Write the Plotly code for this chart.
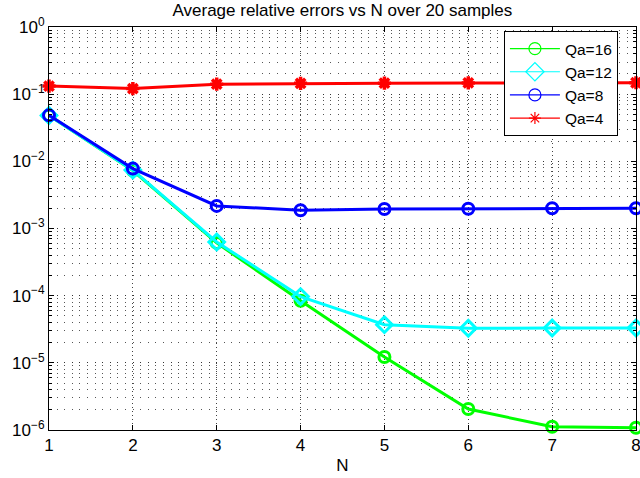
import plotly.graph_objects as go

# Sample sizes N and average relative errors for each Qa setting
n_values = [1, 2, 3, 4, 5, 6, 7, 8]
err_qa16 = [0.0480, 0.0073, 0.00061, 8.4e-5, 1.22e-5, 2.05e-6, 1.12e-6, 1.08e-6]
err_qa12 = [0.0482, 0.0074, 0.00063, 9.7e-5, 3.7e-5, 3.27e-5, 3.3e-5, 3.3e-5]
err_qa8 = [0.0484, 0.0078, 0.00217, 0.00187, 0.00195, 0.00197, 0.00200, 0.00200]
err_qa4 = [0.132, 0.121, 0.141, 0.145, 0.146, 0.147, 0.147, 0.148]

series = [
    ("Qa=16", err_qa16, "#00ff00", "circle-open", 11, 12),
    ("Qa=12", err_qa12, "#00ffff", "diamond-open", 12, 14),
    ("Qa=8", err_qa8, "#0000ff", "circle-open", 11, 12),
    ("Qa=4", err_qa4, "#ff0000", "asterisk-open", 11, 10),
]

fig = go.Figure()
# Thick data lines
for name, vals, color, symbol, size, _ in series:
    fig.add_trace(go.Scatter(
        x=n_values, y=vals, name=name, mode="lines+markers",
        line=dict(color=color, width=3),
        marker=dict(symbol=symbol, size=size, color=color,
                    line=dict(color=color, width=3.5 if "asterisk" in symbol else 3)),
        cliponaxis=False, showlegend=False,
    ))
# Thin-styled legend entries
for name, vals, color, symbol, _, leg_size in series:
    fig.add_trace(go.Scatter(
        x=[None], y=[None], name=name, mode="lines+markers",
        line=dict(color=color, width=1.2),
        marker=dict(symbol=symbol, size=leg_size, color=color,
                    line=dict(color=color, width=1.2)),
        showlegend=True,
    ))

decades = [1e0, 1e-1, 1e-2, 1e-3, 1e-4, 1e-5, 1e-6]
decade_labels = ["10<sup>0</sup>", "10<sup>−1</sup>", "10<sup>−2</sup>",
                 "10<sup>−3</sup>", "10<sup>−4</sup>", "10<sup>−5</sup>",
                 "10<sup>−6</sup>"]

font = dict(family="Liberation Sans, Arial, sans-serif", size=17, color="black")
hgrid_dash = "1px,6.6px"
vgrid_dash = "1px,3px"

fig.update_layout(
    template="none",
    width=640, height=478,
    margin=dict(l=49, r=4, t=27, b=48),
    paper_bgcolor="white", plot_bgcolor="white",
    font=font,
    title=dict(text="Average relative errors vs N over 20 samples",
               x=0.535, xanchor="center", y=0.979, yanchor="middle",
               font=dict(size=17)),
    legend=dict(x=0.775, y=0.99, xanchor="left", yanchor="top",
                bgcolor="white", bordercolor="black", borderwidth=1,
                itemwidth=50, tracegroupgap=0,
                font=dict(size=15.5)),
    showlegend=True,
)

fig.update_xaxes(
    title=dict(text="N", standoff=4, font=dict(size=17)),
    range=[1, 8], tickvals=n_values, ticktext=[str(v) for v in n_values],
    ticks="inside", ticklen=5, tickcolor="black",
    ticklabeloverflow="allow", automargin=False,
    showline=True, linecolor="black", linewidth=1, mirror="ticks",
    showgrid=True, gridcolor="#444444", gridwidth=1, griddash=vgrid_dash,
    zeroline=False,
)

fig.update_yaxes(
    type="log", range=[-6, 0],
    tickvals=decades, ticktext=decade_labels,
    ticks="inside", ticklen=5, tickcolor="black",
    automargin=False,
    showline=True, linecolor="black", linewidth=1, mirror="ticks",
    showgrid=True, gridcolor="#333333", gridwidth=1, griddash=hgrid_dash,
    zeroline=False,
    minor=dict(dtick="D1", ticks="inside", ticklen=3, tickcolor="black",
               showgrid=True, gridcolor="#555555", gridwidth=1,
               griddash=hgrid_dash),
)

fig.write_html("out.html")
